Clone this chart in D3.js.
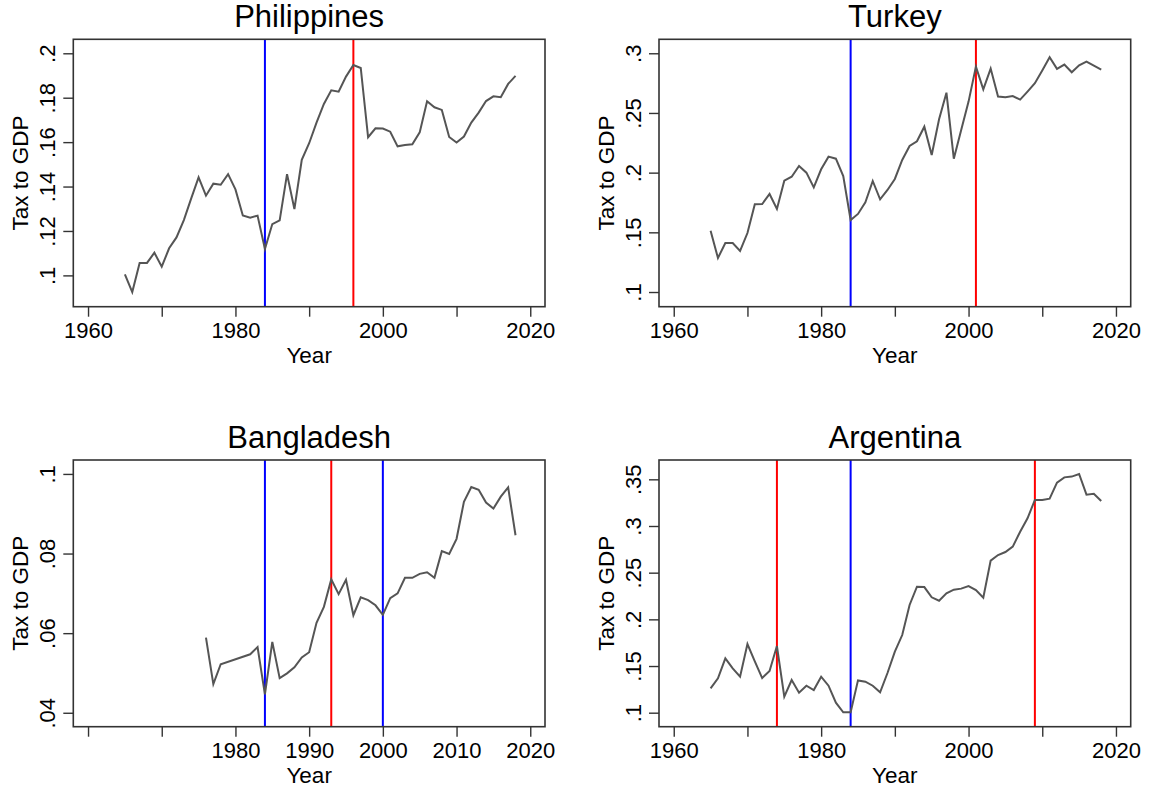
<!DOCTYPE html>
<html>
<head>
<meta charset="utf-8">
<script src="https://cdn.jsdelivr.net/npm/d3@7"></script>
<style>
  body { margin: 0; background: #fff; }
  svg { display: block; }
  text { font-family: "Liberation Sans", Arial, Helvetica, sans-serif; fill: #000; }
</style>
</head>
<body>
<svg id="chart" width="1150" height="792"></svg>
<script>
// Years covered by Philippines, Turkey and Argentina
const years = [1965,1966,1967,1968,1969,1970,1971,1972,1973,1974,1975,1976,1977,1978,1979,
  1980,1981,1982,1983,1984,1985,1986,1987,1988,1989,1990,1991,1992,1993,1994,1995,1996,1997,
  1998,1999,2000,2001,2002,2003,2004,2005,2006,2007,2008,2009,2010,2011,2012,2013,2014,2015,
  2016,2017,2018];

// Tax revenue as a share of GDP
const philippines = [0.1005,0.0925,0.1056,0.1056,0.1102,0.1039,0.1122,0.1171,0.1249,0.1347,
  0.1441,0.1359,0.1413,0.1408,0.1456,0.1387,0.1270,0.1260,0.1269,0.1119,0.1231,0.1248,0.1456,
  0.1299,0.1520,0.1595,0.1688,0.1772,0.1833,0.1827,0.1895,0.1947,0.1934,0.1622,0.1662,0.1661,
  0.1647,0.1581,0.1587,0.1590,0.1644,0.1784,0.1757,0.1745,0.1623,0.1598,0.1625,0.1688,0.1733,
  0.1785,0.1806,0.1802,0.1862,0.1898];

const turkey = [0.1514,0.1285,0.1411,0.1411,0.1344,0.1494,0.1735,0.1737,0.1821,0.1696,0.1933,
  0.1966,0.2056,0.2000,0.1877,0.2028,0.2134,0.2117,0.1972,0.1603,0.1654,0.1751,0.1930,0.1777,
  0.1855,0.1947,0.2106,0.2223,0.2263,0.2385,0.2148,0.2447,0.2670,0.2117,0.2358,0.2595,0.2888,
  0.2698,0.2872,0.2637,0.2631,0.2642,0.2612,0.2679,0.2749,0.2855,0.2966,0.2869,0.2905,0.2841,
  0.2899,0.2930,0.2897,0.2863];

const argentina = [0.1261,0.1368,0.1582,0.1475,0.1386,0.1736,0.1550,0.1371,0.1446,0.1714,0.1171,
  0.1350,0.1214,0.1289,0.1243,0.1386,0.1289,0.1107,0.1004,0.1004,0.1346,0.1332,0.1289,0.1218,
  0.1425,0.1654,0.1832,0.2154,0.2350,0.2346,0.2236,0.2200,0.2279,0.2318,0.2329,0.2357,0.2314,
  0.2232,0.2629,0.2689,0.2721,0.2779,0.2939,0.3082,0.3279,0.3279,0.3293,0.3464,0.3521,0.3529,
  0.3557,0.3336,0.3346,0.3268];

const bangladeshYears = [1976,1977,1978,1982,1983,1984,1985,1986,1987,1988,1989,1990,1991,1992,
  1993,1994,1995,1996,1997,1998,1999,2000,2001,2002,2003,2004,2005,2006,2007,2008,2009,2010,
  2011,2012,2013,2014,2015,2016,2017,2018];
const bangladesh = [0.0589,0.0472,0.0522,0.0547,0.0565,0.0446,0.0578,0.0487,0.0499,0.0514,0.0539,
  0.0552,0.0626,0.0666,0.0735,0.0698,0.0734,0.0645,0.0690,0.0683,0.0670,0.0646,0.0688,0.0700,
  0.0739,0.0739,0.0749,0.0753,0.0739,0.0806,0.0799,0.0837,0.0930,0.0967,0.0960,0.0928,0.0913,
  0.0943,0.0966,0.0846];

// Marked years (blue and red reference lines)
const philippinesBlue = [1984], philippinesRed = [1996];
const turkeyBlue = [1984], turkeyRed = [2001];
const bangladeshBlue = [1984, 2000], bangladeshRed = [1993];
const argentinaBlue = [1984], argentinaRed = [1974, 2009];

// Axis ticks
const xTicks = [1960,1970,1980,1990,2000,2010,2020];
const xLabelsWide = [1960,1980,2000,2020];
const xLabelsBangladesh = [1980,1990,2000,2010,2020];

const philippinesTicks = [0.1,0.12,0.14,0.16,0.18,0.2];
const philippinesTickLabels = [".1",".12",".14",".16",".18",".2"];
const turkeyTicks = [0.1,0.15,0.2,0.25,0.3];
const turkeyTickLabels = [".1",".15",".2",".25",".3"];
const bangladeshTicks = [0.04,0.06,0.08,0.1];
const bangladeshTickLabels = [".04",".06",".08",".1"];
const argentinaTicks = [0.1,0.15,0.2,0.25,0.3,0.35];
const argentinaTickLabels = [".1",".15",".2",".25",".3",".35"];

const panels = [
  { title: "Philippines", x: years, y: philippines, blue: philippinesBlue, red: philippinesRed,
    yDomain: [0.0859, 0.2063], yTicks: philippinesTicks, yLabels: philippinesTickLabels,
    xLabels: xLabelsWide, box: { left: 73.3, right: 545, top: 39.3, bottom: 306.7 } },
  { title: "Turkey", x: years, y: turkey, blue: turkeyBlue, red: turkeyRed,
    yDomain: [0.0877, 0.3117], yTicks: turkeyTicks, yLabels: turkeyTickLabels,
    xLabels: xLabelsWide, box: { left: 659, right: 1130.7, top: 39.3, bottom: 306.7 } },
  { title: "Bangladesh", x: bangladeshYears, y: bangladesh, blue: bangladeshBlue, red: bangladeshRed,
    yDomain: [0.0365, 0.1035], yTicks: bangladeshTicks, yLabels: bangladeshTickLabels,
    xLabels: xLabelsBangladesh, box: { left: 73.3, right: 545, top: 460, bottom: 726.7 } },
  { title: "Argentina", x: years, y: argentina, blue: argentinaBlue, red: argentinaRed,
    yDomain: [0.085, 0.3707], yTicks: argentinaTicks, yLabels: argentinaTickLabels,
    xLabels: xLabelsWide, box: { left: 659, right: 1130.7, top: 460, bottom: 726.7 } }
];

const svg = d3.select("#chart");
const tickLen = 10;
const frameColor = "#333";

panels.forEach(p => {
  const b = p.box;
  const g = svg.append("g");
  const xs = d3.scaleLinear().domain([1958, 2022]).range([b.left, b.right]);
  const ys = d3.scaleLinear().domain(p.yDomain).range([b.bottom, b.top]);

  // Reference lines
  const refs = p.blue.map(v => ({ v, c: "#0000ff" })).concat(p.red.map(v => ({ v, c: "#ff0000" })));
  g.selectAll("line.ref").data(refs).join("line")
    .attr("class", "ref")
    .attr("x1", d => xs(d.v)).attr("x2", d => xs(d.v))
    .attr("y1", b.top).attr("y2", b.bottom)
    .attr("stroke", d => d.c).attr("stroke-width", 2);

  // Series line
  const pts = p.x.map((yr, i) => [yr, p.y[i]]);
  g.append("path")
    .datum(pts)
    .attr("fill", "none")
    .attr("stroke", "#555555")
    .attr("stroke-width", 2)
    .attr("stroke-linejoin", "miter")
    .attr("d", d3.line().x(d => xs(d[0])).y(d => ys(d[1])));

  // Frame
  g.append("rect")
    .attr("x", b.left).attr("y", b.top)
    .attr("width", b.right - b.left).attr("height", b.bottom - b.top)
    .attr("fill", "none").attr("stroke", frameColor).attr("stroke-width", 1.6);

  // X axis
  const xAxis = d3.axisBottom(xs).tickValues(xTicks).tickSize(tickLen).tickPadding(6)
    .tickFormat(d => p.xLabels.includes(d) ? String(d) : "");
  const xg = g.append("g").attr("transform", `translate(0,${b.bottom})`).call(xAxis);
  xg.select(".domain").remove();
  xg.selectAll(".tick line").attr("stroke", frameColor).attr("stroke-width", 1.4);
  xg.selectAll(".tick text").attr("font-size", 22).attr("fill", "#000")
    .attr("font-family", '"Liberation Sans", Arial, sans-serif');

  // Y axis with vertical tick labels
  const yAxis = d3.axisLeft(ys).tickValues(p.yTicks).tickSize(tickLen)
    .tickFormat((d, i) => p.yLabels[i]);
  const yg = g.append("g").attr("transform", `translate(${b.left},0)`).call(yAxis);
  yg.select(".domain").remove();
  yg.selectAll(".tick line").attr("stroke", frameColor).attr("stroke-width", 1.4);
  yg.selectAll(".tick text")
    .attr("font-size", 22).attr("fill", "#000")
    .attr("font-family", '"Liberation Sans", Arial, sans-serif')
    .attr("x", null).attr("dy", null)
    .attr("text-anchor", "middle")
    .attr("transform", "translate(-18,0) rotate(-90)");

  // Titles
  const cx = (b.left + b.right) / 2;
  g.append("text").attr("x", cx).attr("y", b.top - 12)
    .attr("text-anchor", "middle").attr("font-size", 31).text(p.title);
  g.append("text").attr("x", cx).attr("y", b.bottom + 56)
    .attr("text-anchor", "middle").attr("font-size", 22.5).text("Year");
  g.append("text")
    .attr("transform", `translate(${b.left - 45},${(b.top + b.bottom) / 2}) rotate(-90)`)
    .attr("text-anchor", "middle").attr("font-size", 22.5).text("Tax to GDP");
});
</script>
</body>
</html>
